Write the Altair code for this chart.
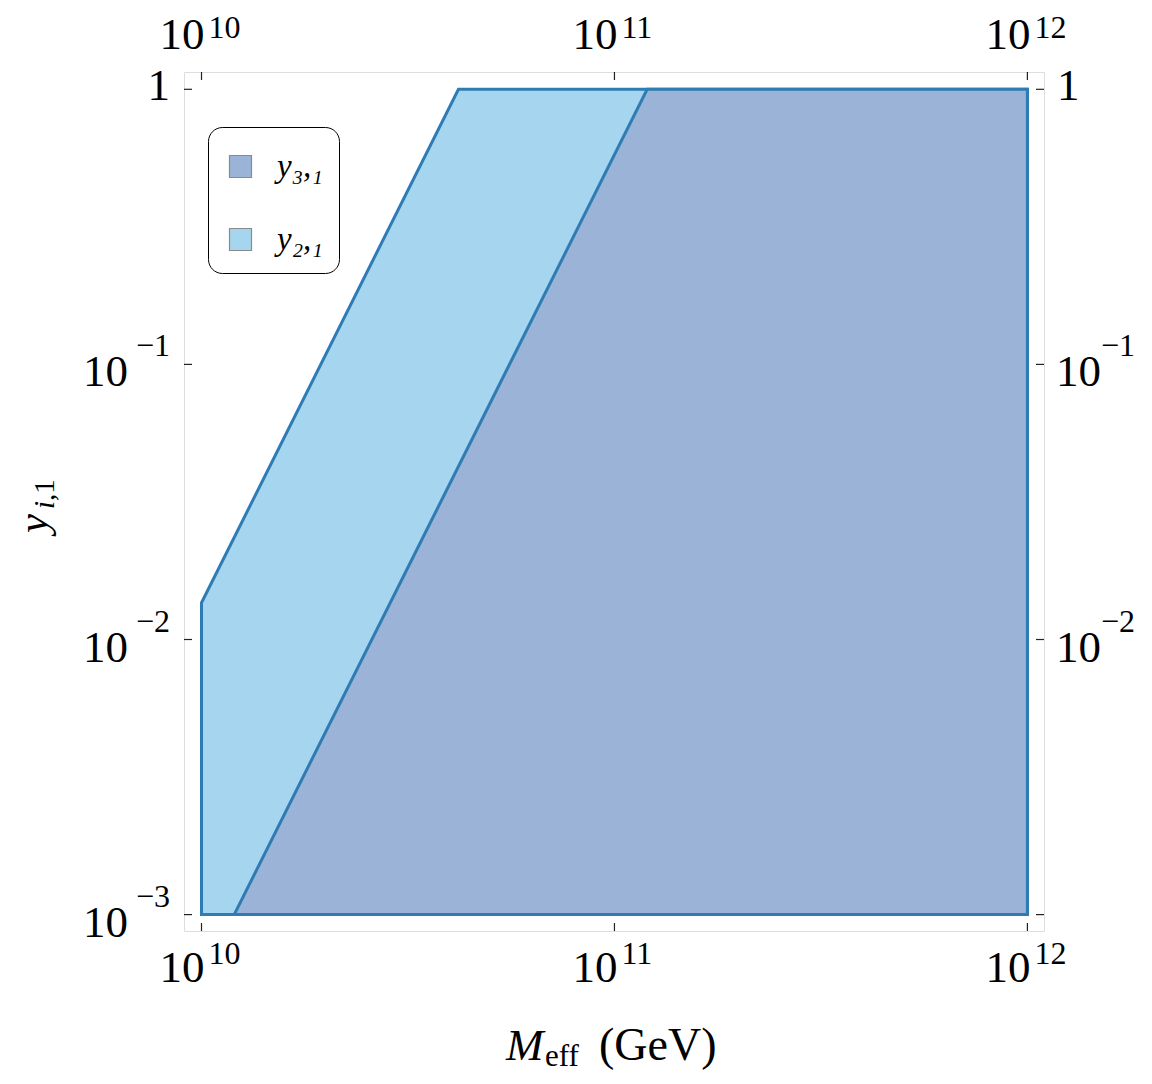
import altair as alt
import pandas as pd

# ---- data ----
series_names = ["y\u2083,\u2081", "y\u2082,\u2081"]          # legend order: dark first
series_colors = ["#9ab3d7", "#a6d6ef"]

# y_{2,1} region (light) : vertices along upper edge, lower edge at 1e-3
light_x = [1.0e10, 4.19e10, 1.0e12]
light_upper = [0.0136, 1.0, 1.0]
light_lower = [1.0e-3, 1.0e-3, 1.0e-3]

# y_{3,1} region (dark)
dark_x = [1.20e10, 1.20e11, 1.0e12]
dark_upper = [1.0e-3, 1.0, 1.0]
dark_lower = [1.0e-3, 1.0e-3, 1.0e-3]

# tick labels (power-of-ten notation: base + exponent)
x_tick_values = [1e10, 1e11, 1e12]
x_tick_bases = ["10", "10", "10"]
x_tick_exponents = ["10", "11", "12"]
y_tick_values = [1e-3, 1e-2, 1e-1, 1.0]
y_tick_bases = ["10", "10", "10", "1"]
y_tick_exponents = ["\u22123", "\u22122", "\u22121", ""]
y_right_labelled = [1e-2, 1e-1, 1.0]

x_domain = [10 ** 9.9576, 10 ** 12.0402]
y_domain = [10 ** -3.0596, 10 ** 0.0629]

W, H = 860, 859
FONT = "Liberation Serif"
STROKE = "#2e7cb4"
BASE_SIZE = 45
EXP_SIZE = 32

light_df = pd.DataFrame({"x": light_x, "y": light_upper, "y2": light_lower,
                         "s": series_names[1]})
dark_df = pd.DataFrame({"x": dark_x, "y": dark_upper, "y2": dark_lower,
                        "s": series_names[0]})
xtick_df = pd.DataFrame({"v": x_tick_values, "base": x_tick_bases,
                         "exp": x_tick_exponents})
ytick_df = pd.DataFrame({"v": y_tick_values, "base": y_tick_bases,
                         "exp": y_tick_exponents})
ytick_df["right"] = ytick_df["v"].isin(y_right_labelled)

xs = alt.Scale(type="log", domain=x_domain, nice=False, zero=False)
ys = alt.Scale(type="log", domain=y_domain, nice=False, zero=False)
cs = alt.Scale(domain=series_names, range=series_colors)

legend = alt.Legend(
    title=" ", titleFontSize=5, titlePadding=2,
    orient="none", legendX=24, legendY=55,
    fillColor="white", strokeColor="black", cornerRadius=14,
    padding=16, symbolType="square", symbolSize=484,
    symbolStrokeColor="#8a8a8a", symbolStrokeWidth=1.2, symbolOpacity=1,
    labelFont=FONT, labelFontStyle="italic", labelFontSize=33,
    labelOffset=20, rowPadding=39, labelColor="black",
)

X = alt.X("x:Q", scale=xs, axis=None)
Y = alt.Y("y:Q", scale=ys, axis=None)

light = alt.Chart(light_df).mark_area(
    stroke=STROKE, strokeWidth=3, fillOpacity=1, strokeJoin="miter"
).encode(x=X, y=Y, y2="y2:Q",
         color=alt.Color("s:N", scale=cs, legend=legend))

dark = alt.Chart(dark_df).mark_area(
    stroke=STROKE, strokeWidth=3, fillOpacity=1, strokeJoin="miter"
).encode(x=X, y=Y, y2="y2:Q",
         color=alt.Color("s:N", scale=cs, legend=legend))

# inward tick marks
tick_color = "#222222"
YV = alt.Y("v:Q", scale=ys, axis=None)
XV = alt.X("v:Q", scale=xs, axis=None)
left_ticks = alt.Chart(ytick_df).mark_rule(color=tick_color, strokeWidth=1.2).encode(
    y=YV, x=alt.value(0), x2=alt.value(8))
right_ticks = alt.Chart(ytick_df).mark_rule(color=tick_color, strokeWidth=1.2).encode(
    y=YV, x=alt.value(W - 8), x2=alt.value(W))
bottom_ticks = alt.Chart(xtick_df).mark_rule(color=tick_color, strokeWidth=1.2).encode(
    x=XV, y=alt.value(H - 8), y2=alt.value(H))
top_ticks = alt.Chart(xtick_df).mark_rule(color=tick_color, strokeWidth=1.2).encode(
    x=XV, y=alt.value(0), y2=alt.value(8))


def lbl(df, size, align, dx=0, dy=0, **enc):
    return alt.Chart(df).mark_text(
        font=FONT, fontSize=size, align=align, baseline="alphabetic",
        dx=dx, dy=dy, color="black"
    ).encode(**enc)


# x tick labels (bottom and top)
x_labels = [
    lbl(xtick_df, BASE_SIZE, "right", dx=3, x=XV, y=alt.value(H + 51), text="base:N"),
    lbl(xtick_df, EXP_SIZE, "left", dx=7, x=XV, y=alt.value(H + 33), text="exp:N"),
    lbl(xtick_df, BASE_SIZE, "right", dx=3, x=XV, y=alt.value(-23), text="base:N"),
    lbl(xtick_df, EXP_SIZE, "left", dx=7, x=XV, y=alt.value(-34), text="exp:N"),
]

# y tick labels (left all, right only 1, 10^-1, 10^-2)
pow_df = ytick_df[ytick_df["exp"] != ""]
one_df = ytick_df[ytick_df["exp"] == ""]
pow_right = pow_df[pow_df["right"]]
y_labels = [
    lbl(pow_df, BASE_SIZE, "right", dy=22, x=alt.value(-56), y=YV, text="base:N"),
    lbl(pow_df, EXP_SIZE, "right", dy=-8, x=alt.value(-14), y=YV, text="exp:N"),
    lbl(one_df, BASE_SIZE, "right", dy=11, x=alt.value(-14), y=YV, text="base:N"),
    lbl(pow_right, BASE_SIZE, "left", dy=22, x=alt.value(W + 12), y=YV, text="base:N"),
    lbl(pow_right, EXP_SIZE, "left", dy=-8, x=alt.value(W + 57), y=YV, text="exp:N"),
    lbl(one_df, BASE_SIZE, "left", dy=11, x=alt.value(W + 13), y=YV, text="base:N"),
]

# axis titles built from pieces (italic symbol + roman subscript)
title_df = pd.DataFrame({"t": [0]})


def txt(text, x, y, size, style="normal", angle=0, align="left"):
    return alt.Chart(title_df).mark_text(
        text=text, font=FONT, fontSize=size, fontStyle=style, angle=angle,
        align=align, baseline="alphabetic", color="black"
    ).encode(x=alt.value(x), y=alt.value(y))


x_title = [
    txt("M", 322, 988, 45, "italic"),
    txt("eff", 361, 994, 31),
    txt("(GeV)", 415, 988, 46),
]
y_title = [
    txt("y", -137, 461, 43, "italic", angle=270),
    txt("i", -130, 437, 29, "italic", angle=270),
    txt(",1", -130, 429, 29, angle=270),
]

chart = alt.layer(
    light, dark, left_ticks, right_ticks, bottom_ticks, top_ticks,
    *x_labels, *y_labels, *x_title, *y_title
).properties(
    width=W, height=H,
    autosize=alt.AutoSizeParams(type="none"),
    padding={"left": 176, "top": 64, "right": 96, "bottom": 144},
).configure_view(
    stroke="#b0b0b0", strokeWidth=1.5
).configure_legend(
    strokeWidth=1.8
).configure(background="white")

chart.save("out.html", embed_options={"renderer": "svg", "actions": False})
